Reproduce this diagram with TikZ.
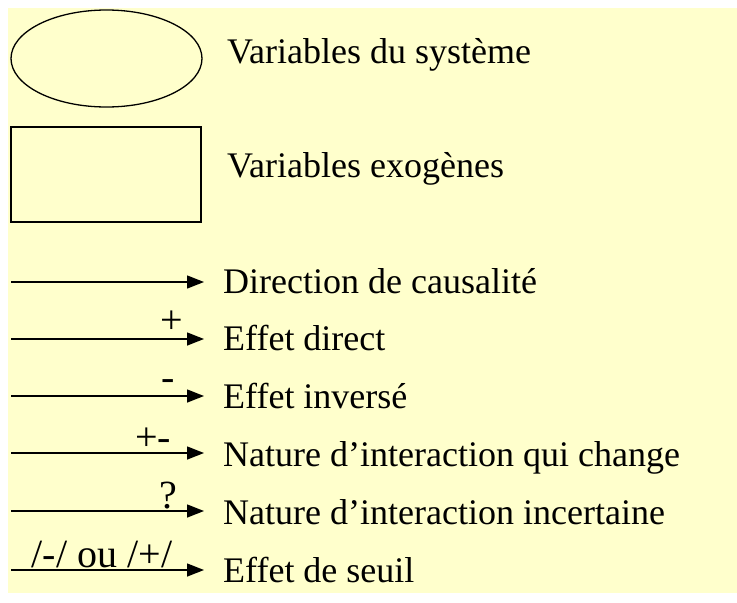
\documentclass[tikz,border=0pt]{standalone}
\usepackage{fontspec}
\setmainfont{Liberation Serif}
\usetikzlibrary{shapes.geometric,arrows.meta}
\definecolor{legendbg}{HTML}{FFFFCC}
\begin{document}
\begin{tikzpicture}[x=1pt, y=-1pt, font=\fontsize{36}{42}\selectfont,
  every node/.style={inner sep=0pt},
  legtext/.style={anchor=base west},
  signlabel/.style={anchor=base, font=\fontsize{40}{44}\selectfont},
  causal/.style={line width=1.4pt, -{Triangle[length=17pt, width=13pt]}}]
\useasboundingbox (0, 0) rectangle (737, 603);
\fill [legendbg] (8, 8) rectangle (737, 593);

\node [draw, line width=1.3pt, ellipse, minimum width=191pt, minimum height=97pt] (sysvar) at (106.5, 58.5) {};
\node [legtext] (sysvartext) at (227, 63) {Variables du système};
\node [draw, line width=1.3pt, rectangle, minimum width=190pt, minimum height=95pt] (exovar) at (106, 174.5) {};
\node [legtext] (exovartext) at (227, 177) {Variables exogènes};

\coordinate (causeA) at (11, 282);
\coordinate (causeB) at (204, 282);
\draw [causal] (causeA) -- (causeB);
\node [legtext] (causetext) at (223, 293) {Direction de causalité};

\coordinate (directA) at (11, 339);
\coordinate (directB) at (204, 339);
\draw [causal] (directA) -- (directB);
\node [signlabel] (directsign) at (172, 333) {+};
\node [legtext] (directtext) at (223, 350) {Effet direct};

\coordinate (inverseA) at (11, 396);
\coordinate (inverseB) at (204, 396);
\draw [causal] (inverseA) -- (inverseB);
\node [signlabel] (inversesign) at (168, 390) {-};
\node [legtext] (inversetext) at (223, 408) {Effet inversé};

\coordinate (changeA) at (11, 453);
\coordinate (changeB) at (204, 453);
\draw [causal] (changeA) -- (changeB);
\node [signlabel] (changesign) at (153, 450) {+-};
\node [legtext] (changetext) at (223, 466) {Nature d’interaction qui change};

\coordinate (uncertainA) at (11, 511);
\coordinate (uncertainB) at (204, 511);
\draw [causal] (uncertainA) -- (uncertainB);
\node [signlabel] (uncertainsign) at (168, 508) {?};
\node [legtext] (uncertaintext) at (223, 524) {Nature d’interaction incertaine};

\coordinate (thresholdA) at (11, 570);
\coordinate (thresholdB) at (204, 570);
\draw [causal] (thresholdA) -- (thresholdB);
\node [signlabel] (thresholdsign) at (102, 567) {/-/ ou /+/};
\node [legtext] (thresholdtext) at (223, 582) {Effet de seuil};
\end{tikzpicture}
\end{document}
